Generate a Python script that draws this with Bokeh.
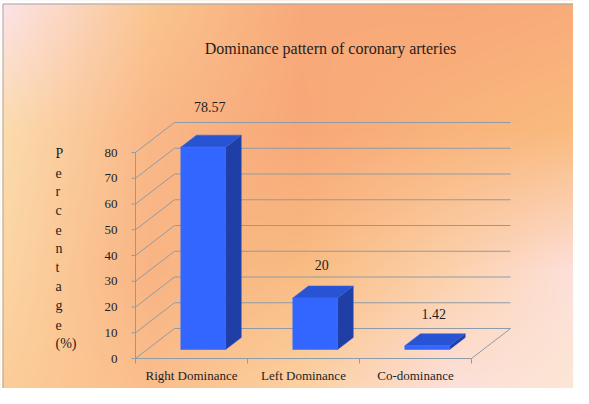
import numpy as np
from bokeh.plotting import figure
from bokeh.models import Range1d, Label, ColumnDataSource
from bokeh.embed import file_html
from bokeh.resources import INLINE
from bokeh.core.properties import value

# ---------------- data ----------------
categories = ["Right Dominance", "Left Dominance", "Co-dominance"]
percentages = [78.57, 20, 1.42]
value_labels = ["78.57", "20", "1.42"]
y_ticks = [0, 10, 20, 30, 40, 50, 60, 70, 80]
y_tick_labels = ["0", "10", "20", "30", "40", "50", "60", "70", "80"]
y_title_letters = ["P", "e", "r", "c", "e", "n", "t", "a", "g", "e", "(%)"]
title_text = "Dominance  pattern of coronary arteries"

# ---------------- geometry / style ----------------
W, H = 573, 388
PX_X = 112.0          # pixels per category
PX_Y = 2.575          # pixels per percent
X0_PX = 135           # frame x of the front-plane origin
Y0_PX = H - 358       # frame y (from bottom) of the front-plane zero
DX = 39 / PX_X        # full depth offset (x, data units)
DY = 30 / PX_Y        # full depth offset (y, data units)
BAR_W = 0.4
BAR_D0, BAR_D1 = 0.3, 0.7
LABEL_D = 0.47
label_offsets = [-28, -21, -20]

FONT = "Liberation Serif"
TXT = "#1e1e1e"
GRID = "#8f9ba6"

x_range = Range1d(-X0_PX / PX_X, (W - X0_PX) / PX_X)
y_range = Range1d(-Y0_PX / PX_Y, (H - Y0_PX) / PX_Y)


def proj(x, v, d):
    return x + d * DX, v + d * DY


def sx(px):
    return (px - X0_PX) / PX_X


def sy(py_top):
    return (H - py_top - Y0_PX) / PX_Y


p = figure(width=W, height=H, x_range=x_range, y_range=y_range,
           output_backend="svg", toolbar_location=None, min_border=0,
           x_axis_type=None, y_axis_type=None)
p.outline_line_color = None
p.grid.visible = False

# ---------------- background gradient ----------------
gx = [0, 150, 300, 450, 589]
gy = [0, 130, 270, 404]
grid_cols = [
    ["#fce4ec", "#fac690", "#f8aa7a", "#f8a878", "#f9ac7a"],
    ["#fcdcae", "#fab888", "#f8a878", "#f9b47c", "#fabc7e"],
    ["#fcd6a4", "#f9b484", "#f9bc82", "#fcd2ac", "#fde2e2"],
    ["#fccc98", "#fbbf8c", "#fcd4a6", "#fde2e2", "#fce8d0"],
]


def h2r(h):
    return [int(h[i:i + 2], 16) for i in (1, 3, 5)]


G = np.array([[h2r(c) for c in row] for row in grid_cols], float)
xr = np.arange(W) + 0.0
yr = np.arange(H) + 0.0
tmp = np.empty((len(gy), W, 3))
for j in range(len(gy)):
    for c in range(3):
        tmp[j, :, c] = np.interp(xr, gx, G[j, :, c])
idx = np.clip(np.searchsorted(gy, yr, side="right") - 1, 0, len(gy) - 2)
gya = np.array(gy, float)
w = np.clip((yr - gya[idx]) / (gya[idx + 1] - gya[idx]), 0, 1)
img = tmp[idx] * (1 - w)[:, None, None] + tmp[idx + 1] * w[:, None, None]
img = img[::-1]
rgba = np.empty((H, W), dtype=np.uint32)
view = rgba.view(dtype=np.uint8).reshape((H, W, 4))
view[..., 0] = img[..., 0].astype(np.uint8)
view[..., 1] = img[..., 1].astype(np.uint8)
view[..., 2] = img[..., 2].astype(np.uint8)
view[..., 3] = 255
p.image_rgba(image=[rgba], x=x_range.start, y=y_range.start,
             dw=x_range.end - x_range.start, dh=y_range.end - y_range.start)

# white margin strips + thin chart border (top and left)
p.quad(left=[sx(0), sx(0)], right=[sx(W), sx(2)], top=[sy(0), sy(0)],
       bottom=[sy(3), sy(H)], fill_color="white", line_color=None)
p.segment(x0=[sx(2.5), sx(2.5)], y0=[sy(3.5), sy(3.5)], x1=[sx(W), sx(2.5)],
          y1=[sy(3.5), sy(H)], line_color="#a8a8a8", line_width=1)

ncat = len(categories)

# ---------------- walls / gridlines ----------------
bx0, by0, bx1, by1 = [], [], [], []
for v in y_ticks:
    a = proj(0, v, 1)
    b = proj(ncat, v, 1)
    bx0.append(a[0]); by0.append(a[1]); bx1.append(b[0]); by1.append(b[1])
p.segment(x0=bx0, y0=by0, x1=bx1, y1=by1, line_color=GRID, line_width=1)

lx0, ly0, lx1, ly1 = [], [], [], []
for v in y_ticks:
    a = proj(0, v, 0)
    b = proj(0, v, 1)
    lx0.append(a[0]); ly0.append(a[1]); lx1.append(b[0]); ly1.append(b[1])
p.segment(x0=lx0, y0=ly0, x1=lx1, y1=ly1, line_color=GRID, line_width=1)

# floor front + right edge
fr = proj(ncat, 0, 0)
fb = proj(ncat, 0, 1)
p.segment(x0=[0, fr[0]], y0=[0, fr[1]], x1=[ncat, fb[0]], y1=[0, fb[1]],
          line_color=GRID, line_width=1)
# vertical axis line
p.segment(x0=[0], y0=[0], x1=[0], y1=[max(y_ticks)], line_color=GRID, line_width=1)
# y ticks (left)
TK = 4 / PX_X
p.segment(x0=[-TK] * len(y_ticks), y0=y_ticks, x1=[0] * len(y_ticks), y1=y_ticks,
          line_color=GRID, line_width=1)
# x ticks (down)
TKY = 5 / PX_Y
xt = list(range(ncat + 1))
p.segment(x0=xt, y0=[0] * len(xt), x1=xt, y1=[-TKY] * len(xt),
          line_color=GRID, line_width=1)

# ---------------- bars ----------------
front_xs, front_ys, side_xs, side_ys, top_xs, top_ys = [], [], [], [], [], []
for i, v in enumerate(percentages):
    x0 = i + 0.5 - BAR_W / 2
    x1 = i + 0.5 + BAR_W / 2
    pts = [proj(x0, 0, BAR_D0), proj(x1, 0, BAR_D0), proj(x1, v, BAR_D0), proj(x0, v, BAR_D0)]
    front_xs.append([q[0] for q in pts]); front_ys.append([q[1] for q in pts])
    pts = [proj(x1, 0, BAR_D0), proj(x1, 0, BAR_D1), proj(x1, v, BAR_D1), proj(x1, v, BAR_D0)]
    side_xs.append([q[0] for q in pts]); side_ys.append([q[1] for q in pts])
    pts = [proj(x0, v, BAR_D0), proj(x1, v, BAR_D0), proj(x1, v, BAR_D1), proj(x0, v, BAR_D1)]
    top_xs.append([q[0] for q in pts]); top_ys.append([q[1] for q in pts])

p.patches(side_xs, side_ys, fill_color="#1f3fa6", line_color="#2a4ab8", line_width=0.6)
p.patches(top_xs, top_ys, fill_color="#2853d2", line_color="#3a64e0", line_width=0.6)
p.patches(front_xs, front_ys, fill_color="#3366ff", line_color="#3a6cf6", line_width=0.6)

# ---------------- value labels ----------------
vsrc = ColumnDataSource(dict(
    x=[proj(i + 0.5, v, LABEL_D)[0] for i, v in enumerate(percentages)],
    y=[proj(i + 0.5, v, BAR_D1)[1] for i, v in enumerate(percentages)],
    t=value_labels, dy=label_offsets))
p.text(x="x", y="y", text="t", y_offset="dy", source=vsrc,
       text_align="center", text_baseline="middle",
       text_font=value(FONT), text_font_size="14px", text_color=TXT)

# ---------------- category labels ----------------
p.text(x=[i + 0.5 for i in range(ncat)], y=[0] * ncat, text=categories,
       y_offset=17, text_align="center", text_baseline="middle",
       text_font=value(FONT), text_font_size="13px", text_color=TXT)

# ---------------- y tick labels ----------------
p.text(x=[0] * len(y_ticks), y=y_ticks, text=y_tick_labels,
       x_offset=-18, text_align="right", text_baseline="middle",
       text_font=value(FONT), text_font_size="13px", text_color=TXT)

# ---------------- y title (stacked letters) ----------------
for k, ch in enumerate(y_title_letters):
    p.add_layout(Label(x=55, y=H - (153 + 19 * k), x_units="screen", y_units="screen",
                       text=ch, text_align="left", text_baseline="middle",
                       text_font=FONT, text_font_size="14px", text_color=TXT))

# ---------------- title ----------------
p.add_layout(Label(x=332, y=H - 48, x_units="screen", y_units="screen",
                   text=title_text, text_align="center", text_baseline="middle",
                   text_font=FONT, text_font_size="16px", text_color=TXT))

open("out.html", "w").write(file_html(p, INLINE))
